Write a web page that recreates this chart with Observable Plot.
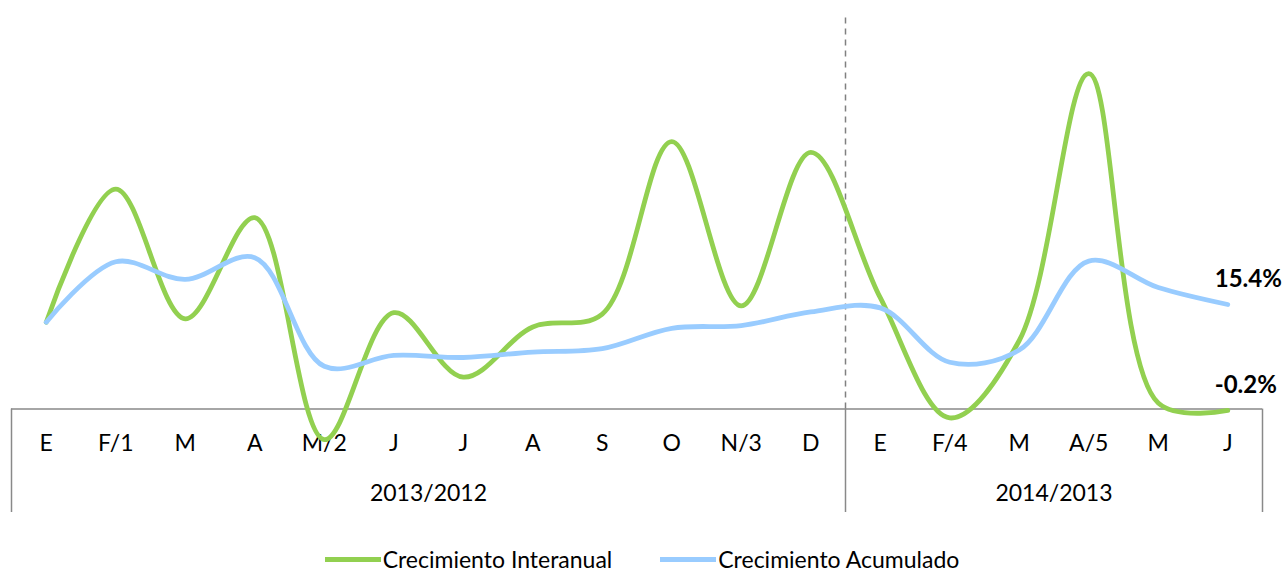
<!DOCTYPE html>
<html>
<head>
<meta charset="utf-8">
<script src="https://cdn.jsdelivr.net/npm/d3@7"></script>
<script src="https://cdn.jsdelivr.net/npm/@observablehq/plot@0.6"></script>
<style>
  html, body { margin: 0; padding: 0; background: #fff; }
  #chart svg { display: block; }
  .legend { display: flex; justify-content: center; align-items: center; height: 24px; padding-top: 12px;
            font-family: Lato, "Open Sans", sans-serif; font-size: 23px; color: #000; line-height: 24px; }
  .legend .item { display: flex; align-items: center; margin: 0 24px; }
  .legend .sw { width: 56px; height: 5px; margin-right: 2px; }
</style>
</head>
<body>
<div id="chart"></div>
<div class="legend" id="legend"></div>
<script>
// ---- data ----
const months = ["E","F/1","M","A","M/2","J","J","A","S","O","N/3","D","E","F/4","M","A/5","M","J"];
const interanual = [12.8, 32.4, 13.3, 28.2, -4.5, 14.2, 4.7, 12.1, 14.0, 39.4, 15.2, 37.8, 16.4, -1.3, 10.1, 49.4, 0.9, -0.2];
const acumulado  = [12.8, 21.7, 19.1, 22.3, 6.3, 7.9, 7.6, 8.4, 8.9, 11.9, 12.3, 14.3, 14.9, 6.9, 8.7, 21.8, 17.9, 15.4];
const groupLabels = ["2013/2012", "2014/2013"];
const groupSizes = [12, 6];
const seriesNames = ["Crecimiento Interanual", "Crecimiento Acumulado"];
const seriesColors = ["#92D050", "#99CCFF"];

// ---- derived tables ----
const rowsI = months.map((m, i) => ({i, m, v: interanual[i]}));
const rowsA = months.map((m, i) => ({i, m, v: acumulado[i]}));
let acc = 0;
const groups = groupLabels.map((g, k) => { const s = acc; acc += groupSizes[k]; return {label: g, start: s - 0.5, end: acc - 0.5, mid: (s + acc - 1) / 2}; });
const bounds = [groups[0].start, ...groups.map(g => g.end)];
const lastPts = [rowsA[rowsA.length - 1], rowsI[rowsI.length - 1]];

const yMin = -15.23, yMax = 58.26;
const font = "Lato, 'Open Sans', sans-serif";

const chart = Plot.plot({
  width: 1284,
  height: 535,
  marginLeft: 11,
  marginRight: 22,
  marginTop: 13,
  marginBottom: 23,
  style: {fontFamily: font, fontSize: "23px", color: "#000", background: "#fff"},
  x: {type: "linear", domain: [-0.5, months.length - 0.5], axis: null},
  y: {domain: [yMin, yMax], axis: null},
  marks: [
    // category box
    Plot.ruleY([0], {stroke: "#898989", strokeWidth: 1.5}),
    Plot.ruleX(bounds, {x: d => d, y1: 0, y2: yMin, stroke: "#898989", strokeWidth: 1.5}),
    // dashed separator
    Plot.ruleX([groups[0].end], {x: d => d, y1: 0, y2: yMax, stroke: "#808080", strokeWidth: 1.5, strokeDasharray: "6,5"}),
    // category labels
    Plot.text(rowsI, {x: "i", text: "m", frameAnchor: "bottom", dy: -62, fontSize: 23, fill: "#000"}),
    Plot.text(groups, {x: "mid", text: "label", frameAnchor: "bottom", dy: -12, fontSize: 23, fill: "#000"}),
    // lines
    Plot.line(rowsI, {x: "i", y: "v", curve: "catmull-rom", stroke: seriesColors[0], strokeWidth: 4.8, strokeLinecap: "round"}),
    Plot.line(rowsA, {x: "i", y: "v", curve: "catmull-rom", stroke: seriesColors[1], strokeWidth: 4.8, strokeLinecap: "round"}),
    // end labels
    Plot.text(lastPts, {x: "i", y: "v", text: d => d.v.toFixed(1) + "%", textAnchor: "start", dx: -13, dy: -25, fontWeight: "bold", fontSize: 24, fill: "#000"})
  ]
});
document.getElementById("chart").appendChild(chart);

const leg = document.getElementById("legend");
seriesNames.forEach((n, k) => {
  const it = document.createElement("div");
  it.className = "item";
  const sw = document.createElement("div");
  sw.className = "sw";
  sw.style.background = seriesColors[k];
  const t = document.createElement("span");
  t.textContent = n;
  it.appendChild(sw); it.appendChild(t);
  leg.appendChild(it);
});
</script>
</body>
</html>
